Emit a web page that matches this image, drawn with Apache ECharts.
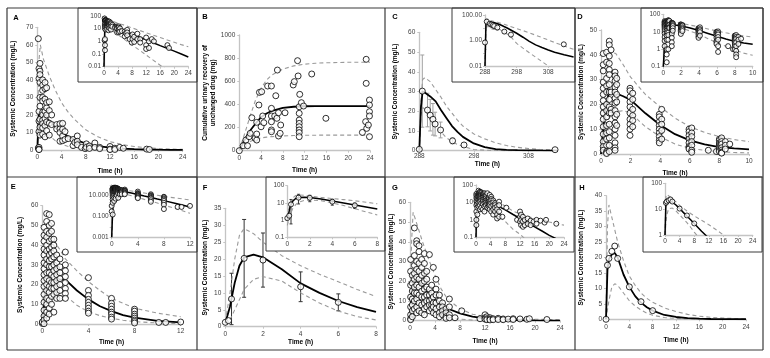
<!DOCTYPE html>
<html>
<head>
<meta charset="utf-8">
<script src="https://cdn.jsdelivr.net/npm/echarts@6/dist/echarts.min.js"></script>
<style>
  html, body { margin: 0; background: #fff; }
  #chart { width: 770px; height: 358px; }
</style>
</head>
<body>
<div id="chart"></div>
<script>
// observed points: [time, value] or [time, [values...]] for a column of points
const aObs = [
  [0.17, [63.5, 1.2]], [0.28, [46.5, 40.8, 22, 16.5, 10.5, 1.5, 0.5, 0.2]],
  [0.44, [49.4, 45, 43, 38.5, 30, 25, 17.5, 13, 8.5]],
  [0.88, [40, 37, 34, 30, 28, 21.5, 20, 17, 15, 12.6, 9]],
  [1.27, [38.5, 35, 29, 22, 18, 14, 7.5]], [1.54, [35.5, 27, 24, 20, 16, 11]],
  [1.98, [27.5, 22.5, 15.3, 8.5]], [2.37, [20, 14.5]], [3.2, [14.5, 12]],
  [3.74, [15, 12, 10, 5]], [4.18, [15.2, 11.8, 8, 5.3]], [4.57, [10.5, 6]],
  [5.1, 6.5], [5.9, [6, 2.5]], [6.2, 4.3], [6.6, [8, 5, 3]], [7.3, 1.5], [7.9, 0.8],
  [8.1, [3.5, 1.5]], [8.6, [2.3, 0.9]], [9.5, [4, 1.5]], [10.3, [1.5, 0.8]],
  [12, [2, 0.5, 0.25]], [12.8, [1, 0.3]], [13.6, 1.5], [14.2, 1], [18.05, 0.5], [18.5, 0.3]
];
const aCurveT = [0, 0.25, 0.5, 1, 2, 3, 4, 5, 6, 8, 10, 12, 14, 16, 18, 20, 22, 24];
const aMid = [0, 20, 22, 20, 16.5, 13, 10, 8, 6.2, 3.7, 2.2, 1.3, 0.78, 0.46, 0.28, 0.17, 0.1, 0.058];
const aHi = [0, 50, 60, 52, 42, 34, 27, 22, 18, 11.5, 7.5, 4.8, 3.1, 2.0, 1.3, 0.85, 0.55, 0.38];
const aLo = [0, 14, 16, 13, 8.3, 5.2, 3.3, 2.1, 1.3, 0.52, 0.21, 0.083, 0.033, 0.013, 0.0055, 0.0023, 0.001, 0.0004];

const bObs = [
  [0, 0], [0.7, 43], [1.2, 92], [1.5, 43], [1.8, 121], [2, 150], [2.3, 285], [2.9, 107],
  [3.2, [92, 144, 245]], [3.6, 395], [3.7, 504], [4.1, 510], [4, 207], [4.3, 300], [4.5, 242],
  [5.2, 559], [5.9, [559, 366, 300, 250, 179, 164]], [6.5, 300], [6.7, 475], [6.9, 280],
  [7, 697], [7.2, [127, 328]], [7.5, 150], [7.6, 222], [8.4, 328], [9.9, 568], [10.1, 597],
  [10.7, 778], [10.8, 646], [11, [380, 323, 265, 236, 207, 179, 156, 121]], [11.1, 487],
  [11.4, 415], [11.8, 386], [13.3, 663], [15.9, 280], [22.6, 158], [23.2, 251],
  [23.3, [790, 582]], [23.4, 193], [23.7, 222], [23.9, [438, 395, 337, 300, 121]]
];
const bCurveT = [0, 1, 2, 3, 4, 5, 6, 8, 10, 12, 14, 16, 20, 24];
const bMid = [0, 95, 175, 235, 290, 322, 345, 370, 380, 384, 385, 386, 386, 386];
const bHi = [0, 150, 300, 440, 540, 610, 655, 705, 733, 748, 756, 760, 764, 765];
const bLo = [0, 45, 80, 100, 110, 117, 122, 128, 131, 133, 134, 135, 135, 135];

const cTime = [288, 288.55, 289.5, 290, 290.5, 290.9, 291.9, 294.1, 296.2, 312.9];
const cConc = [0.7, 30.2, 20.6, 18, 15.9, 13.5, 10.5, 5, 2.9, 0.5];
const cSd = [0.5, 18.3, 8.5, 8, 8, 6, 4, 1.5, 1, 0];
const cCurveT = [288, 288.3, 288.6, 289, 290, 291, 292, 293, 294, 295, 296, 298, 300, 302, 304, 306, 308, 310, 313, 316];
const cMid = [0, 22, 30, 29.5, 27.5, 25, 20.5, 16.5, 12.5, 9.5, 7, 3.7, 1.8, 0.85, 0.45, 0.28, 0.18, 0.12, 0.075, 0.05];
const cHi = [0, 25, 36, 37, 35, 31, 27, 22.5, 19, 15.5, 12.5, 8.5, 6, 4, 2.6, 1.7, 1.1, 0.7, 0.38, 0.2];
const cLo = [0, 18, 22, 21, 16, 12, 9.5, 6.5, 4.6, 3.2, 2.2, 0.6, 0.25, 0.11, 0.05, 0.022, 0.01, 0.0045, 0.0015, 0.0005];

const dObs = [
  [0.15, [40.5, 36, 33.5, 29, 26.5, 24, 21.5, 19, 16.5, 14, 11, 8, 5, 3, 1.5]],
  [0.38, [41, 37, 30.5, 27.5, 25, 20, 17.5, 15, 11.5, 8.5, 6, 3.5, 1, 0.5, 0.18]],
  [0.56, [45.5, 44, 39.5, 36.5, 34, 32, 28, 25, 22, 19, 16.5, 12, 9, 6.5, 3.5, 1]],
  [0.68, [42, 25, 18, 16.5]],
  [0.95, [33, 31.5, 29.5, 27, 25, 22.5, 20.5, 17.5, 15, 12.5, 10, 7.5, 4.5, 2.5, 1.5]],
  [1.06, [30.5, 28, 24, 21, 16, 11.5]],
  [1.96, [26.5, 25.5, 23, 21, 19, 16.5, 14, 12, 10, 7.5]],
  [2.14, [24.5, 22, 18, 15.5, 13.5, 11]],
  [3.94, [16, 15, 13, 11.5, 10, 8.5, 7, 5.5, 4.5]],
  [4.1, [18, 14, 12, 9.5, 6]],
  [5.95, [10, 9, 7.5, 6, 4.5, 3, 2.5, 2]],
  [6.13, [10.5, 8.5, 7, 5, 3.5, 1.5, 0.7]],
  [7.25, 1.5], [7.8, 1],
  [8.0, [6, 5.5, 4.5, 4, 3.5, 3, 2.5, 2, 1.5, 1]],
  [8.15, [6.5, 5, 4, 2.5, 1.5, 0.8, 0.5, 0.35]],
  [8.4, [5, 3.5, 2]], [8.7, 4]
];
const dCurveT = [0, 0.25, 0.5, 0.75, 1, 1.5, 2, 3, 4, 5, 6, 7, 8, 9, 10];
const dMid = [0, 16, 24, 25, 24.5, 23.3, 21.8, 16.4, 11.7, 8, 5.5, 3.9, 2.8, 2.3, 1.9];
const dHi = [0, 25, 38, 41, 40.5, 36, 31, 24, 19, 14.5, 11, 8.7, 7, 5.8, 5];
const dLo = [0, 8, 14, 16, 17, 17.5, 16.5, 11, 7, 4, 2.3, 1.5, 0.9, 0.6, 0.45];

const eObs = [
  [0, [0.3, 1]],
  [0.15, [49, 45, 42, 38, 35, 31, 28, 25, 22, 19, 15, 11, 7, 4, 2, 0.15]],
  [0.38, [56, 52, 47, 44, 40, 37, 33, 30, 26, 23, 20, 17, 13, 10, 6, 3]],
  [0.6, [55.5, 50, 46, 42, 38, 35, 32, 29, 26, 22, 19, 16, 12, 8, 5]],
  [0.8, [51, 47, 43, 39, 36, 33, 29, 25, 21, 18, 14, 10]],
  [1.0, [43, 40, 37, 34, 30, 27, 24, 21, 18, 15, 6]],
  [1.25, [35, 31, 28, 25, 22, 19, 16, 13]],
  [1.53, [33, 29, 26, 23, 20, 17, 13]],
  [2.0, [36.5, 30, 27, 24, 21, 18, 15.5, 13]],
  [4.0, [23.5, 17, 14.5, 12.5, 11, 9.5, 8, 6.5, 5.5]],
  [6.0, [13, 10.5, 9, 7.5, 6, 5, 3.5, 2.5]],
  [8.0, [7.5, 6.5, 5, 4, 3, 2, 1.3, 0.5]],
  [10.1, 0.8], [10.7, 0.8], [12, 1]
];
const eCurveT = [0, 0.25, 0.5, 1, 1.5, 2, 3, 4, 5, 6, 7, 8, 10, 12];
const eMid = [0, 15, 20, 21.5, 22.5, 22.5, 17, 12.5, 9, 6.5, 4.5, 3.2, 1.6, 0.8];
const eHi = [0, 28, 38, 42, 38, 33, 27, 21.5, 17, 13, 10.5, 8, 5.5, 3.7];
const eLo = [0, 7, 11, 13, 14, 14.5, 9.5, 6.2, 4.2, 2.9, 1.9, 1.2, 0.5, 0.2];

const fTime = [0, 0.17, 0.33, 1, 2, 4, 6];
const fConc = [1.3, 1.8, 8.2, 20.2, 19.7, 11.8, 7.2];
const fSd = [0, 0, 7.6, 11.5, 8, 4.4, 2.5];
const fCurveT = [0, 0.25, 0.5, 0.75, 1, 1.5, 2, 3, 4, 5, 6, 7, 8];
const fMid = [1, 6, 13, 18, 20.5, 21.3, 20.5, 17, 12.8, 10, 7.6, 5.8, 4.4];
const fHi = [1.5, 10, 20, 27, 29, 27.5, 25, 21, 18, 15.5, 13.3, 11, 8.9];
const fLo = [0.5, 2, 5, 8, 11, 14, 14.8, 13.5, 10, 7, 4.6, 3, 2];

const gObs = [
  [0.1, [31, 25, 18, 12, 7, 3, 1, 0.5]],
  [0.37, [23, 19, 15, 11, 8, 5, 2]],
  [0.7, [47, 33, 28, 24, 21, 17, 14, 10, 6]],
  [1.07, [40.5, 39, 30, 26, 22, 18, 14, 11, 7, 4]],
  [1.44, [38, 35, 29, 25, 21, 17, 13, 9, 5]],
  [1.87, [31, 27, 23, 19, 15, 12, 8, 4]],
  [2.3, [34, 29, 24, 20, 16, 12, 9, 6, 3]],
  [2.67, [25, 21, 17, 13, 10, 7]],
  [3.1, [33.5, 16, 13, 10, 8, 5]],
  [3.47, [18, 14, 11, 8, 6]],
  [3.73, [27, 12, 9, 7, 4]],
  [4.16, [21, 16, 13, 9, 6, 3]],
  [4.7, [13, 10, 7, 4, 2]],
  [5.2, [9, 7, 5, 3]],
  [5.76, [6, 4, 2, 1.2]],
  [6.3, [11, 7, 3, 1.5]],
  [7.2, 1.5], [8.27, 5], [11.2, 1],
  [12, [3, 1.5, 0.8]], [12.3, [2, 1, 0.5]], [12.8, [1.5, 0.8, 0.4]], [13.3, [1, 0.5]],
  [14.1, [1.2, 0.6]], [14.9, [0.9, 0.5]], [15.7, 0.8], [16.5, [1.0, 0.6]],
  [17.6, 0.9], [18.7, 0.7], [19.1, 1], [21.9, 0.6]
];
const gCurveT = [0, 0.25, 0.5, 1, 1.5, 2, 3, 4, 5, 6, 8, 10, 12, 14, 16, 18, 20, 22, 24];
const gMid = [0, 14, 20, 21, 19.5, 17, 13.5, 10.5, 8, 6.2, 3.7, 2.1, 1.2, 0.7, 0.4, 0.23, 0.13, 0.08, 0.05];
const gHi = [0, 40, 55, 50, 45, 40, 31, 23, 16, 11, 6, 3.3, 2.2, 1.6, 1.2, 0.95, 0.75, 0.6, 0.5];
const gLo = [0, 6, 10, 12, 11, 9, 6.5, 4.5, 2.8, 1.8, 0.8, 0.3, 0.15, 0.06, 0.025, 0.01, 0.004, 0.002, 0.001];

const hTime = [0, 0.25, 0.5, 1, 1.5, 2, 4, 6, 8];
const hConc = [0, 17.5, 19.7, 22, 23.7, 19.7, 10.5, 5.7, 2.8];
const hCurveT = [0, 0.25, 0.5, 1, 1.5, 2, 3, 4, 5, 6, 7, 8, 10, 12, 14, 16, 18, 20, 22, 24];
const hMid = [0, 16, 19.5, 21, 21.5, 20, 14.5, 10.5, 7.5, 5.4, 3.9, 2.8, 1.4, 0.75, 0.4, 0.2, 0.1, 0.05, 0.03, 0.02];
const hHi = [0, 30, 37, 33, 29, 25, 19, 14, 11, 8.5, 6.8, 5.5, 3.7, 2.5, 1.6, 1, 0.65, 0.4, 0.25, 0.15];
const hLo = [0, 3, 6, 10.5, 11.5, 11, 8.5, 6, 4.3, 3, 2, 1.3, 0.6, 0.25, 0.1, 0.05, 0.02, 0.01, 0.005, 0.002];

const FONT = '"Liberation Sans", Arial, sans-serif';
const CONC = 'Systemic Concentration (mg/L)';

const expand = groups => groups.flatMap(([t, v]) => [].concat(v).map(c => [t, c]));
const zip = (t, v) => t.map((x, i) => [x, v[i]]);

const panels = [
  { letter: 'A', at: [16, 18], obs: expand(aObs), ct: aCurveT, mid: aMid, hi: aHi, lo: aLo,
    main: { box: [37.3, 27.3, 182.7, 150], x: { min: 0, max: 24, interval: 4 }, y: { min: 0, max: 70, interval: 10 }, yName: CONC, yGap: 20, xGap: 17 },
    inset: { box: [104, 16, 188.3, 66.7], frame: [78, 8, 197, 82], x: { min: 0, max: 24, interval: 4 }, y: { min: 0.01, max: 100 } } },
  { letter: 'B', at: [205, 17], obs: expand(bObs), ct: bCurveT, mid: bMid, hi: bHi, lo: bLo,
    main: { box: [239.3, 35, 370, 150.7], x: { min: 0, max: 24, interval: 4 }, y: { min: 0, max: 1000, interval: 200 }, yName: 'Cumulative urinary recovery of\nunchanged drug (mg)', yGap: 18, xGap: 16 } },
  { letter: 'C', at: [395, 16.7], obs: zip(cTime, cConc), sd: cSd, ct: cCurveT, mid: cMid, hi: cHi, lo: cLo, errColor: '#a0a0a0',
    main: { box: [419.3, 32.3, 555.6, 150.7], x: { min: 288, max: 313, ticks: [288, 298, 308], margin: 2 }, y: { min: 0, max: 60, interval: 10 }, yName: CONC, yGap: 20, xGap: 10 },
    inset: { box: [485, 15, 573.6, 66], frame: [452, 8, 575, 82], x: { min: 288, max: 316, ticks: [288, 298, 308] }, y: { min: 0.01, max: 100, shown: [0.01, 1, 100], dec: 2 } } },
  { letter: 'D', at: [580, 17], obs: expand(dObs), ct: dCurveT, mid: dMid, hi: dHi, lo: dLo,
    main: { box: [601, 30, 749, 154], x: { min: 0, max: 10, interval: 2 }, y: { min: 0, max: 50, interval: 10 }, yName: CONC, yGap: 16, xGap: 15 },
    inset: { box: [663.3, 14.3, 752.7, 66.7], frame: [641, 8, 763, 82], x: { min: 0, max: 10, interval: 2 }, y: { min: 0.1, max: 100 } } },
  { letter: 'E', at: [13.3, 186.7], obs: expand(eObs), ct: eCurveT, mid: eMid, hi: eHi, lo: eLo,
    main: { box: [42.3, 205.7, 180.7, 324], x: { min: 0, max: 12, interval: 4 }, y: { min: 0, max: 60, interval: 10 }, yName: CONC, yGap: 18, xGap: 14 },
    inset: { box: [111.7, 185, 190, 237.3], frame: [77, 177, 197, 252], x: { min: 0, max: 12, interval: 4 }, y: { min: 0.001, max: 100, shown: [0.001, 0.1, 10], dec: 3 } } },
  { letter: 'F', at: [205, 187.7], obs: zip(fTime, fConc), sd: fSd, ct: fCurveT, mid: fMid, hi: fHi, lo: fLo, errColor: '#333',
    main: { box: [225.3, 208.3, 376, 326.7], x: { min: 0, max: 8, interval: 2 }, y: { min: 0, max: 35, interval: 5 }, yName: CONC, yGap: 16, xGap: 11 },
    inset: { box: [287.3, 185.7, 377.3, 237.3], frame: [266, 177, 385, 251], x: { min: 0, max: 8, interval: 2 }, y: { min: 0.1, max: 100 } } },
  { letter: 'G', at: [395, 187.7], obs: expand(gObs), ct: gCurveT, mid: gMid, hi: gHi, lo: gLo,
    main: { box: [410, 202.3, 560, 320.7], x: { min: 0, max: 24, interval: 4 }, y: { min: 0, max: 60, interval: 10 }, yName: CONC, yGap: 13, xGap: 17 },
    inset: { box: [476, 185, 564, 237.3], frame: [454, 177, 574, 252], x: { min: 0, max: 24, interval: 4 }, y: { min: 0.1, max: 100 } } },
  { letter: 'H', at: [582, 187.7], obs: zip(hTime, hConc), ct: hCurveT, mid: hMid, hi: hHi, lo: hLo,
    main: { box: [606, 195.7, 746, 319.3], x: { min: 0, max: 24, interval: 4 }, y: { min: 0, max: 40, interval: 5 }, yName: CONC, yGap: 21, xGap: 17 },
    inset: { box: [665, 183.3, 752.7, 235], frame: [643, 177, 762, 252], x: { min: 0, max: 24, interval: 4 }, y: { min: 1, max: 100 } } }
];

const grid = [], xAxis = [], yAxis = [], series = [], graphic = [];

function axisBase(idx, inset) {
  return {
    gridIndex: idx, z: inset ? 6 : 1,
    splitLine: { show: false },
    axisLine: { show: true, onZero: false, lineStyle: { color: '#c4c4c4', width: 1.3 } },
    axisTick: { show: true, length: 2, lineStyle: { color: '#c4c4c4' } },
    axisLabel: { fontSize: 6.5, color: '#404040', fontFamily: FONT, margin: 3, formatter: v => String(v) }
  };
}

function addGrid(s, inset) {
  const idx = grid.length;
  const [x0, y0, x1, y1] = s.box;
  grid.push({ left: x0, top: y0, width: x1 - x0, height: y1 - y0 });
  const titleStyle = { fontSize: 6.5, fontWeight: 'bold', color: '#000', fontFamily: FONT, lineHeight: 8 };

  const xa = Object.assign(axisBase(idx, inset), { type: 'value', min: s.x.min, max: s.x.max });
  if (s.x.interval) xa.interval = s.x.interval;
  if (s.x.ticks) {
    xa.axisLabel.customValues = s.x.ticks;
    xa.axisTick.customValues = s.x.ticks;
  }
  if (s.x.margin != null) xa.axisLabel.margin = s.x.margin;
  if (!inset) {
    xa.axisLabel.margin = s.x.margin != null ? s.x.margin : 4;
    Object.assign(xa, { name: 'Time (h)', nameLocation: 'middle', nameGap: s.xGap, nameTextStyle: titleStyle });
  }
  xAxis.push(xa);

  const ya = axisBase(idx, inset);
  if (inset) {
    const shown = s.y.shown, dec = s.y.dec;
    Object.assign(ya, { type: 'log', logBase: 10, min: s.y.min, max: s.y.max });
    ya.axisLabel.formatter = v => {
      if (shown && !shown.some(t => Math.abs(Math.log10(v / t)) < 1e-3)) return '';
      return dec != null ? v.toFixed(dec) : String(+v.toPrecision(4));
    };
  } else {
    Object.assign(ya, { type: 'value', min: s.y.min, max: s.y.max, interval: s.y.interval,
      name: s.yName, nameLocation: 'middle', nameGap: s.yGap, nameTextStyle: titleStyle });
    ya.axisLabel.margin = 4;
  }
  yAxis.push(ya);
  return idx;
}

function addSeries(p, gi, inset) {
  const floor = inset ? p.inset.y.min : null;
  const fix = v => (inset && v <= 0 ? floor : v);
  const z0 = inset ? 10 : 2;
  const line = (vals, dashed) => ({
    type: 'line', xAxisIndex: gi, yAxisIndex: gi, silent: true, clip: true,
    data: p.ct.map((t, i) => [t, fix(vals[i])]), symbol: 'none',
    lineStyle: dashed ? { color: '#9a9a9a', width: 1.1, type: [4, 3] } : { color: '#000', width: inset ? 1.5 : 1.8 },
    z: z0
  });
  series.push(line(p.hi, true), line(p.lo, true), line(p.mid, false));

  if (p.sd) {
    const errs = p.obs.map(([t, c], i) => [t, Math.max(c - p.sd[i], inset ? floor : 0), c + p.sd[i]])
      .filter((d, i) => p.sd[i] > 0);
    series.push({
      type: 'custom', xAxisIndex: gi, yAxisIndex: gi, silent: true, clip: true, z: z0,
      data: errs, encode: { x: 0, y: [1, 2] },
      renderItem: (params, api) => {
        const lo = api.coord([api.value(0), api.value(1)]);
        const hi = api.coord([api.value(0), api.value(2)]);
        const st = { stroke: p.errColor, lineWidth: 1 };
        const cap = inset ? 1.5 : 2;
        return { type: 'group', children: [
          { type: 'line', shape: { x1: lo[0], y1: lo[1], x2: hi[0], y2: hi[1] }, style: st },
          { type: 'line', shape: { x1: hi[0] - cap, y1: hi[1], x2: hi[0] + cap, y2: hi[1] }, style: st },
          { type: 'line', shape: { x1: lo[0] - cap, y1: lo[1], x2: lo[0] + cap, y2: lo[1] }, style: st }
        ] };
      }
    });
  }

  series.push({
    type: 'scatter', xAxisIndex: gi, yAxisIndex: gi, silent: true,
    data: inset ? p.obs.filter(d => d[1] > 0) : p.obs,
    symbol: 'circle', symbolSize: inset ? 5 : 6,
    itemStyle: { color: '#fff', borderColor: '#000', borderWidth: 1 },
    z: z0 + 1
  });
}

panels.forEach(p => {
  const m = addGrid(p.main, false);
  addSeries(p, m, false);
  if (p.inset) {
    const [fx0, fy0, fx1, fy1] = p.inset.frame;
    graphic.push({ type: 'rect', z: 5, silent: true,
      shape: { x: fx0, y: fy0, width: fx1 - fx0, height: fy1 - fy0 },
      style: { fill: '#fff', stroke: '#3a3a3a', lineWidth: 1 } });
    const k = addGrid(p.inset, true);
    addSeries(p, k, true);
  }
  graphic.push({ type: 'text', x: p.at[0], y: p.at[1], z: 30, silent: true,
    style: { text: p.letter, font: 'bold 7.5px ' + FONT, fill: '#000', align: 'center', verticalAlign: 'middle' } });
});

// panel frame
const frameLines = [
  [7, 8, 763, 8], [7, 177, 763, 177], [7, 350, 763, 350],
  [7, 8, 7, 350], [197, 8, 197, 350], [385, 8, 385, 350], [575, 8, 575, 350], [763, 8, 763, 350]
];
frameLines.forEach(([x1, y1, x2, y2]) => graphic.push({
  type: 'line', z: 30, silent: true, shape: { x1, y1, x2, y2 }, style: { stroke: '#3a3a3a', lineWidth: 1.2 }
}));

const chart = echarts.init(document.getElementById('chart'));
chart.setOption({
  animation: false,
  backgroundColor: '#fff',
  textStyle: { fontFamily: FONT },
  grid, xAxis, yAxis, series, graphic
});
</script>
</body>
</html>
